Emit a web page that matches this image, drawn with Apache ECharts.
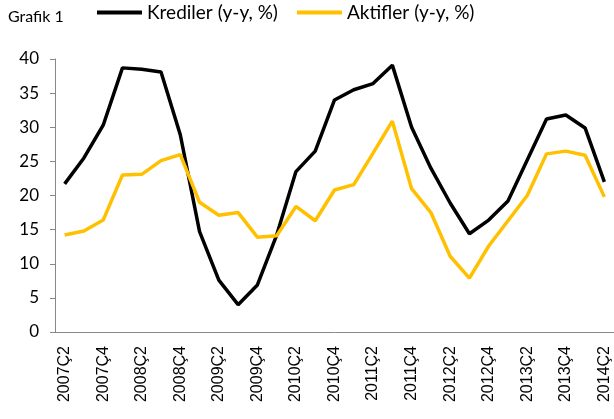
<!DOCTYPE html>
<html>
<head>
<meta charset="utf-8">
<script src="https://cdn.jsdelivr.net/npm/echarts@6/dist/echarts.min.js"></script>
<style>
  html, body { margin: 0; padding: 0; background: #fff; }
  #chart { width: 614px; height: 419px; }
</style>
</head>
<body>
<div id="chart"></div>
<script>
const quarters = [
  "2007Ç2", "2007Ç3", "2007Ç4", "2008Ç1", "2008Ç2", "2008Ç3", "2008Ç4",
  "2009Ç1", "2009Ç2", "2009Ç3", "2009Ç4", "2010Ç1", "2010Ç2", "2010Ç3",
  "2010Ç4", "2011Ç1", "2011Ç2", "2011Ç3", "2011Ç4", "2012Ç1", "2012Ç2",
  "2012Ç3", "2012Ç4", "2013Ç1", "2013Ç2", "2013Ç3", "2013Ç4", "2014Ç1",
  "2014Ç2"
];
const krediler = [
  21.7, 25.5, 30.3, 38.7, 38.5, 38.1, 28.9, 14.7, 7.6, 4.0, 6.9, 14.2, 23.5,
  26.5, 34.0, 35.5, 36.4, 39.1, 30.0, 24.0, 18.9, 14.4, 16.4, 19.2, 25.2,
  31.2, 31.8, 29.9, 22.0
];
const aktifler = [
  14.2, 14.8, 16.4, 23.0, 23.1, 25.1, 26.0, 19.0, 17.1, 17.5, 13.9, 14.1, 18.4,
  16.3, 20.8, 21.6, 26.2, 30.9, 21.0, 17.5, 11.1, 7.9, 12.6, 16.3, 20.0,
  26.1, 26.5, 25.9, 19.8
];
const seriesNames = ["Krediler (y-y, %)", "Aktifler (y-y, %)"];

const myChart = echarts.init(document.getElementById("chart"));
const option = {
  animation: false,
  title: {
    text: "Grafik 1",
    left: 3,
    top: 4,
    textStyle: { fontFamily: "Lato", fontSize: 16, fontWeight: "normal", color: "#000" }
  },
  legend: {
    left: 92,
    top: -2,
    icon: "rect",
    itemWidth: 45,
    itemHeight: 4,
    itemGap: 19,
    textStyle: { fontFamily: "Lato", fontSize: 19, color: "#000" },
    data: seriesNames
  },
  grid: {
    left: 55,
    right: 0,
    top: 59,
    bottom: 87
  },
  xAxis: {
    type: "category",
    data: quarters,
    boundaryGap: true,
    axisLine: { lineStyle: { color: "#888", width: 1 } },
    axisTick: { interval: 0, length: 5, lineStyle: { color: "#888" } },
    axisLabel: {
      interval: 1,
      rotate: 90,
      fontFamily: "Liberation Sans",
      fontSize: 16,
      color: "#000",
      margin: 14
    }
  },
  yAxis: {
    type: "value",
    min: 0,
    max: 40,
    interval: 5,
    splitLine: { show: false },
    axisLine: { show: true, lineStyle: { color: "#888", width: 1 } },
    axisTick: { show: true, length: 5, lineStyle: { color: "#888" } },
    axisLabel: { fontFamily: "Lato", fontSize: 17, color: "#000", margin: 16 }
  },
  series: [
    {
      name: seriesNames[0],
      type: "line",
      data: krediler,
      symbol: "none",
      lineStyle: { color: "#000", width: 3.5 },
      itemStyle: { color: "#000" }
    },
    {
      name: seriesNames[1],
      type: "line",
      data: aktifler,
      symbol: "none",
      lineStyle: { color: "#FFC000", width: 3.5 },
      itemStyle: { color: "#FFC000" }
    }
  ]
};
myChart.setOption(option);
</script>
</body>
</html>
